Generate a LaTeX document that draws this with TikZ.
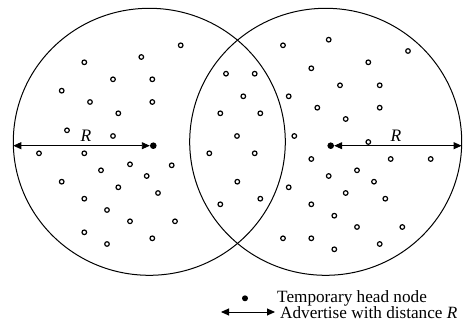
\documentclass[tikz,border=0pt]{standalone}
\usepackage{fontspec}
\setmainfont{Liberation Serif}
\usetikzlibrary{arrows.meta}
\begin{document}
\begin{tikzpicture}[x=1pt,y=-1pt,
  sn/.style={circle,draw,line width=1.2pt,minimum size=4.6pt,inner sep=0pt},
  hn/.style={circle,fill,minimum size=6.6pt,inner sep=0pt},
  rng/.style={line width=1pt},
  adv/.style={line width=0.9pt,{Triangle[length=8pt,width=7pt]}-{Triangle[length=8pt,width=7pt]}},
  lbl/.style={font=\fontsize{17.5}{20}\selectfont,inner sep=0pt,anchor=base west},
  leg/.style={font=\fontsize{17.2}{19}\selectfont,inner sep=0pt,anchor=base west}]
\useasboundingbox (0,0) rectangle (474,334);
% range circles
\draw[rng] (149.3,141.8) ellipse (136pt and 133.5pt);
\draw[rng] (325.7,141.8) ellipse (136pt and 133.5pt);
% ordinary nodes
\foreach \p [count=\i] in {(180.7,45.3),(141.3,57),(84.3,62.3),(113,79.3),(152.3,79.3),(61.7,90.7),(90,102),(152.3,102),(118.3,113.3),(67,130.3),(113,136),(226,73.7),(220.3,113.3),(237,136),
(283,45.3),(328.7,39.7),(408,51),(368.3,62.3),(311.3,68.3),(254.7,73.7),(243.3,96.3),(288.7,96.3),(340,85.3),(379.7,85.3),(317.3,107.7),(379.7,107.7),(260.3,113.3),(345.7,119),(294.3,136),(368.3,142),
(39,153.3),(84.3,153.3),(130,164.3),(171.7,165.3),(101,170.3),(146.7,176),(61.7,181.7),(118.3,187.3),(158,193),(84.3,198.7),(107,210),(130,221.3),(175,221.3),(84.3,232.3),(152.3,238.3),(107,244),(209.3,153.3),(237.3,181.7),(220.3,204.3),
(254.7,153.3),(260.3,198.7),(288.7,187.3),(311.3,159),(390.7,159),(430.7,159),(357,170.3),(328.7,176),(374,181.7),(345.7,193),(385.3,198.7),(311.3,204.3),(334.3,215.7),(357,227),(402.3,227),(283,238.3),(311.3,238.3),(334.3,249.3),(379.7,244)}
  \node[sn] (n\i) at \p {};
% head nodes
\node[hn] (h1) at (153.3,145.7) {};
\node[hn] (h2) at (330.7,145.7) {};
\coordinate (e1) at (13.3,145.7);
\coordinate (e2) at (461.6,145.7);
\draw[adv] (e1) -- (h1);
\draw[adv] (h2) -- (e2);
\node[lbl,anchor=base] (r1) at (86,141.5) {\textit{R}};
\node[lbl,anchor=base] (r2) at (396,141.5) {\textit{R}};
% legend
\node[hn,minimum size=6pt] (lh) at (245,298.3) {};
\node[leg] (lt1) at (277,302.6) {Temporary head node};
\coordinate (la) at (221,312);
\coordinate (lb) at (275,312);
\draw[adv] (la) -- (lb);
\node[leg] (lt2) at (280,318.7) {Advertise with distance \textit{R}};
\end{tikzpicture}
\end{document}
